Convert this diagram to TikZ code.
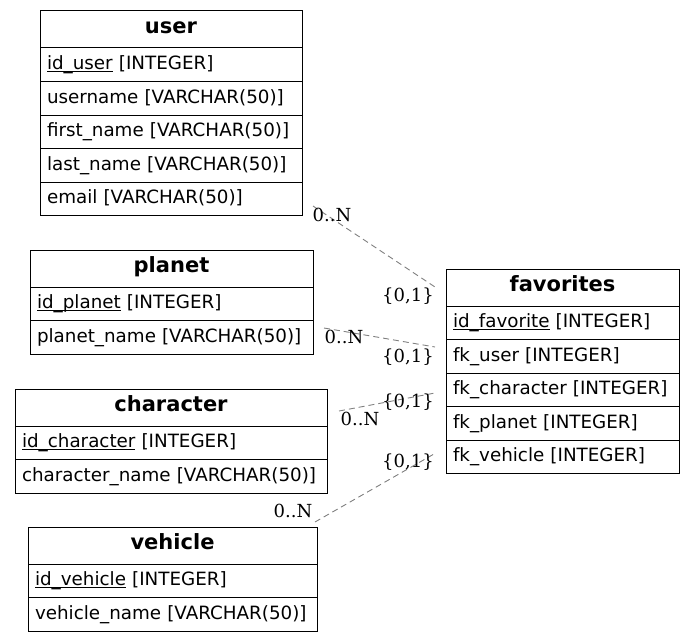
\documentclass[tikz,border=0pt]{standalone}
\usepackage{fontspec}
\setmainfont{DejaVu Sans}
\newfontfamily\lblfont{DejaVu Serif}
\definecolor{edgegray}{RGB}{128,128,128}
\newcommand\pkey[1]{\setbox0\hbox{#1}\rlap{\rule[-2.4pt]{\wd0}{0.8pt}}\box0\relax}
\begin{document}
\begin{tikzpicture}[x=1pt,y=-1pt,
  titlebox/.style={draw, line width=1pt, outer sep=0pt, anchor=north west, minimum height=37pt, inner xsep=7pt, inner ysep=0pt,
    font=\fontsize{21}{25}\selectfont\bfseries, align=center, text height=15.5pt, text depth=7.5pt},
  rowbox/.style={draw, line width=1pt, outer sep=0pt, anchor=north west, minimum height=33.5pt, inner xsep=7pt, inner ysep=0pt,
    font=\fontsize{18.3}{22}\selectfont, align=left, text height=14pt, text depth=4pt},
  card/.style={font=\lblfont\fontsize{18}{22}\selectfont, inner sep=0pt},
  rel/.style={draw=edgegray, line width=0.9pt, dash pattern=on 6pt off 4pt}
]
\useasboundingbox (0,0) rectangle (695,642);

% user
\node[titlebox, text width=248pt] (user) at (40,11) {user};
\node[rowbox, text width=248pt] (user-1) at (user.south west) {\pkey{id\_user} [INTEGER]};
\node[rowbox, text width=248pt] (user-2) at (user-1.south west) {username [VARCHAR(50)]};
\node[rowbox, text width=248pt] (user-3) at (user-2.south west) {first\_name [VARCHAR(50)]};
\node[rowbox, text width=248pt] (user-4) at (user-3.south west) {last\_name [VARCHAR(50)]};
\node[rowbox, text width=248pt] (user-5) at (user-4.south west) {email [VARCHAR(50)]};

% planet
\node[titlebox, text width=269pt] (planet) at (30,250) {planet};
\node[rowbox, text width=269pt] (planet-1) at (planet.south west) {\pkey{id\_planet} [INTEGER]};
\node[rowbox, text width=269pt] (planet-2) at (planet-1.south west) {planet\_name [VARCHAR(50)]};

% character
\node[titlebox, text width=298pt] (character) at (15,389) {character};
\node[rowbox, text width=298pt] (character-1) at (character.south west) {\pkey{id\_character} [INTEGER]};
\node[rowbox, text width=298pt] (character-2) at (character-1.south west) {character\_name [VARCHAR(50)]};

% vehicle
\node[titlebox, text width=275pt] (vehicle) at (28,527) {vehicle};
\node[rowbox, text width=275pt] (vehicle-1) at (vehicle.south west) {\pkey{id\_vehicle} [INTEGER]};
\node[rowbox, text width=275pt] (vehicle-2) at (vehicle-1.south west) {vehicle\_name [VARCHAR(50)]};

% favorites
\node[titlebox, text width=219pt] (favorites) at (446,269) {favorites};
\node[rowbox, text width=219pt] (fav-1) at (favorites.south west) {\pkey{id\_favorite} [INTEGER]};
\node[rowbox, text width=219pt] (fav-2) at (fav-1.south west) {fk\_user [INTEGER]};
\node[rowbox, text width=219pt] (fav-3) at (fav-2.south west) {fk\_character [INTEGER]};
\node[rowbox, text width=219pt] (fav-4) at (fav-3.south west) {fk\_planet [INTEGER]};
\node[rowbox, text width=219pt] (fav-5) at (fav-4.south west) {fk\_vehicle [INTEGER]};

% connector ends
\coordinate (u-s) at (313,206);  \coordinate (u-e) at (435,287);
\coordinate (p-s) at (324,328);  \coordinate (p-e) at (435,347);
\coordinate (c-s) at (339,411);  \coordinate (c-e) at (435,393);
\coordinate (v-s) at (315,522);  \coordinate (v-e) at (434,454);

\draw[rel] (u-s) -- (u-e);
\draw[rel] (p-s) -- (p-e);
\draw[rel] (c-s) -- (c-e);
\draw[rel] (v-s) -- (v-e);

% cardinalities
\node[card] (u-n) at (332,215) {0..N};
\node[card] (u-1) at (408,296) {\{0,1\}};
\node[card] (p-n) at (344,337) {0..N};
\node[card] (p-1) at (408,357) {\{0,1\}};
\node[card] (c-n) at (360,419) {0..N};
\node[card] (c-1) at (408,402) {\{0,1\}};
\node[card] (v-n) at (293,511) {0..N};
\node[card] (v-1) at (408,462) {\{0,1\}};
\end{tikzpicture}
\end{document}
